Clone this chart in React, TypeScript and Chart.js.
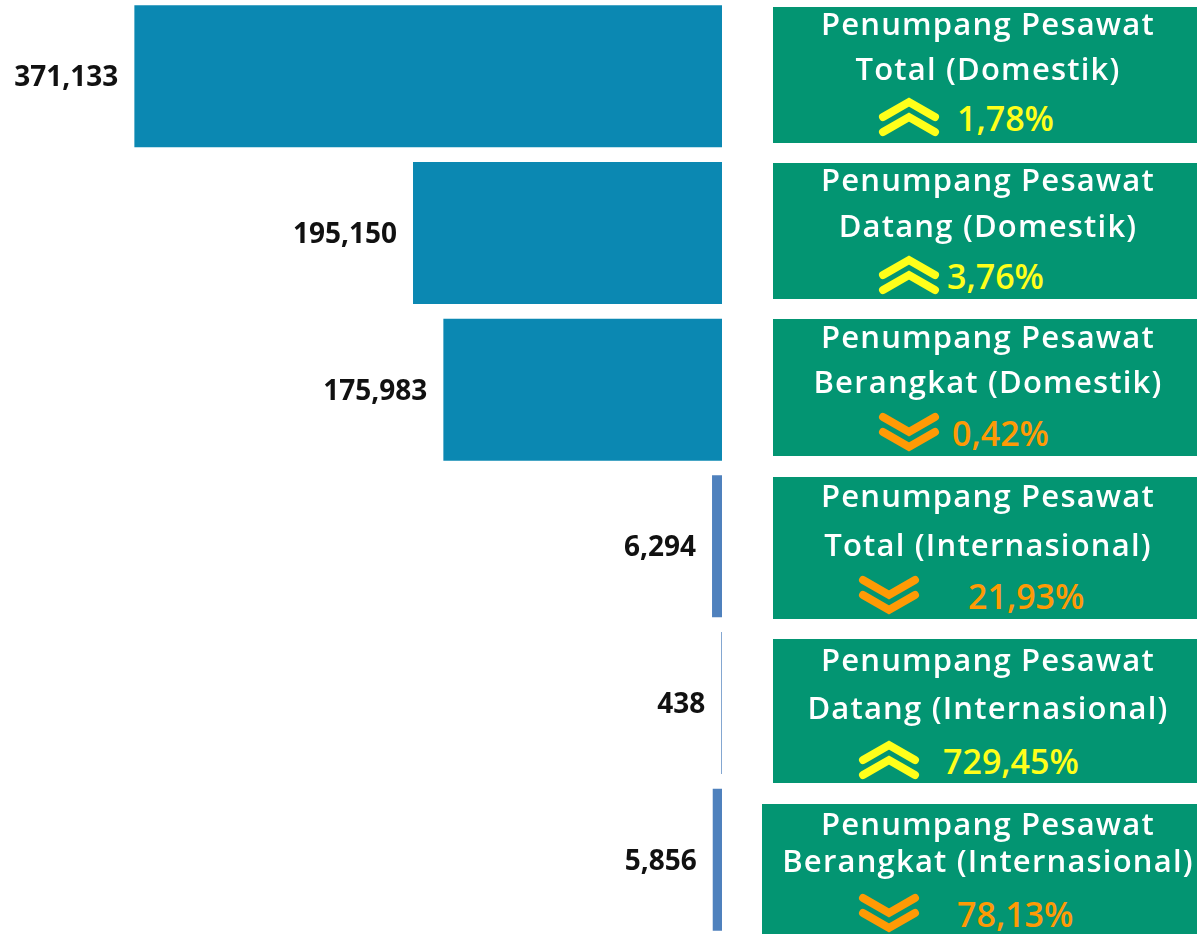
import React, { useEffect, useRef } from "react";
import { Chart, registerables } from "chart.js";

Chart.register(...registerables);

const categories = [
  "Total (Domestik)",
  "Datang (Domestik)",
  "Berangkat (Domestik)",
  "Total (Internasional)",
  "Datang (Internasional)",
  "Berangkat (Internasional)",
];
const passengerValues = [371133, 195150, 175983, 6294, 438, 5856];
const changePercent = ["1,78%", "3,76%", "0,42%", "21,93%", "729,45%", "78,13%"];
const changeDirection = ["up", "up", "down", "down", "up", "down"];
const titlePrefix = "Penumpang Pesawat";

const BAR_DOMESTIC = "#0B88B2";
const BAR_INTL = "#4F81BD";
const BOX_GREEN = "#039572";
const UP_COLOR = "#FFFF1A";
const DOWN_COLOR = "#FF9A05";

// layout of the annotation boxes (pixels)
const boxLayout = [
  { left: 773, top: 7, height: 136, l1: 24, l2: 69, l3: 119, arrowX: 878, pctX: 957 },
  { left: 773, top: 163, height: 136, l1: 180, l2: 226, l3: 277, arrowX: 878, pctX: 947 },
  { left: 773, top: 319, height: 137, l1: 337, l2: 382, l3: 434, arrowX: 878, pctX: 952 },
  { left: 773, top: 477, height: 142, l1: 496, l2: 545, l3: 597, arrowX: 858, pctX: 968 },
  { left: 773, top: 639, height: 144, l1: 660, l2: 708, l3: 762, arrowX: 858, pctX: 943 },
  { left: 762, top: 804, height: 130, l1: 824, l2: 861, l3: 915, arrowX: 858, pctX: 957 },
];

const valueLabelPlugin = {
  id: "valueLabels",
  afterDatasetsDraw(chart: any) {
    const ctx = chart.ctx;
    const meta = chart.getDatasetMeta(0);
    const data = chart.data.datasets[0].data;
    meta.data.forEach((bar: any, i: number) => {
      ctx.save();
      ctx.font = '700 28px "Open Sans"';
      ctx.fillStyle = "#111111";
      ctx.textAlign = "right";
      ctx.textBaseline = "middle";
      ctx.fillText(Number(data[i]).toLocaleString("en-US"), bar.x - 16, bar.y + 2);
      ctx.restore();
    });
  },
};

function Chevrons({ dir, color }: { dir: string; color: string }) {
  const up = dir === "up";
  const p1 = up ? "6,20 32,5 58,20" : "6,5 32,20 58,5";
  const p2 = up ? "6,35 32,20 58,35" : "6,20 32,35 58,20";
  return (
    <svg width={64} height={40} viewBox="0 0 64 40" style={{ display: "block" }}>
      <polyline points={p1} fill="none" stroke={color} strokeWidth={8} strokeLinecap="round" strokeLinejoin="miter" />
      <polyline points={p2} fill="none" stroke={color} strokeWidth={8} strokeLinecap="round" strokeLinejoin="miter" />
    </svg>
  );
}

export default function App() {
  const canvasRef = useRef<HTMLCanvasElement | null>(null);

  useEffect(() => {
    if (!canvasRef.current) return;
    const chart = new Chart(canvasRef.current, {
      type: "bar",
      data: {
        labels: categories,
        datasets: [
          {
            data: passengerValues,
            backgroundColor: passengerValues.map((_, i) => (i < 3 ? BAR_DOMESTIC : BAR_INTL)),
            borderWidth: 0,
            barPercentage: 0.906,
            categoryPercentage: 1,
          },
        ],
      },
      options: {
        indexAxis: "y",
        responsive: false,
        animation: false,
        layout: { padding: 0 },
        scales: {
          x: { reverse: true, min: 0, max: 456000, display: false, grid: { display: false } },
          y: { display: false, grid: { display: false } },
        },
        plugins: { legend: { display: false }, tooltip: { enabled: false } },
      },
      plugins: [valueLabelPlugin],
    });
    return () => chart.destroy();
  }, []);

  const textFont = '"Open Sans", sans-serif';

  return (
    <div style={{ position: "absolute", left: 0, top: 0, width: 1197, height: 934, overflow: "hidden", background: "#fff" }}>
      <canvas ref={canvasRef} width={722} height={940} style={{ position: "absolute", left: 0, top: -2, width: 722, height: 940 }} />
      {boxLayout.map((b, i) => {
        const up = changeDirection[i] === "up";
        const color = up ? UP_COLOR : DOWN_COLOR;
        const lineStyle: React.CSSProperties = {
          position: "absolute",
          left: 988 - 300,
          width: 600,
          height: 40,
          lineHeight: "40px",
          textAlign: "center",
          color: "#ffffff",
          fontFamily: textFont,
          fontWeight: 600,
          fontSize: 31,
          letterSpacing: 1.2,
          whiteSpace: "nowrap",
        };
        return (
          <React.Fragment key={i}>
            <div style={{ position: "absolute", left: b.left, top: b.top, width: 1197 - b.left, height: b.height, background: BOX_GREEN }} />
            <div style={{ ...lineStyle, top: b.l1 - 21 }}>{titlePrefix}</div>
            <div style={{ ...lineStyle, top: b.l2 - 21 }}>{categories[i]}</div>
            <div style={{ position: "absolute", left: b.arrowX - 1, top: b.l3 - 22 }}>
              <Chevrons dir={changeDirection[i]} color={color} />
            </div>
            <div
              style={{
                position: "absolute",
                left: b.pctX,
                top: b.l3 - 21,
                height: 40,
                lineHeight: "40px",
                color,
                fontFamily: textFont,
                fontWeight: 600,
                fontSize: 34,
                whiteSpace: "nowrap",
              }}
            >
              {changePercent[i]}
            </div>
          </React.Fragment>
        );
      })}
    </div>
  );
}
